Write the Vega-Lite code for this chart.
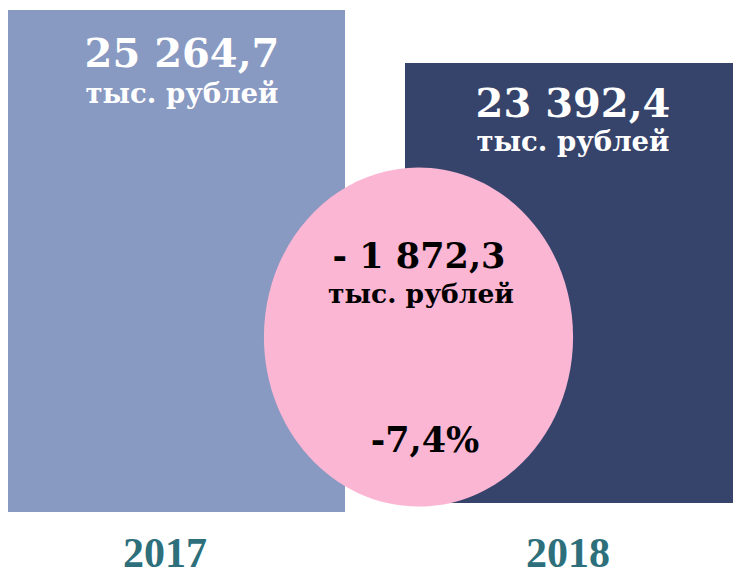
{
  "$schema": "https://vega.github.io/schema/vega-lite/v6.json",
  "width": 733,
  "height": 572,
  "autosize": "none",
  "padding": 0,
  "background": "white",
  "config": {"view": {"stroke": null}},
  "layer": [
    {
      "data": {"values": [
        {"year": "2017", "value": 25264.7, "left": 8, "right": 345, "top": 10, "bottom": 512},
        {"year": "2018", "value": 23392.4, "left": 405, "right": 733, "top": 63, "bottom": 503}
      ]},
      "mark": {"type": "rect"},
      "encoding": {
        "x": {"field": "left", "type": "quantitative", "scale": {"domain": [0, 733], "nice": false, "zero": false}, "axis": null},
        "x2": {"field": "right"},
        "y": {"field": "top", "type": "quantitative", "scale": {"domain": [0, 572], "reverse": true, "nice": false, "zero": false}, "axis": null},
        "y2": {"field": "bottom"},
        "color": {"field": "year", "type": "nominal", "scale": {"domain": ["2017", "2018"], "range": ["#8899c2", "#36446b"]}, "legend": null}
      }
    },
    {
      "data": {"values": [{"change": -1872.3, "cx": 418.5, "cy": 337}]},
      "mark": {"type": "point", "filled": true, "opacity": 1, "color": "#fbb6d4", "size": 114921, "shape": "M-0.912,0 A0.912,1 0 1,1 0.912,0 A0.912,1 0 1,1 -0.912,0 Z"},
      "encoding": {
        "x": {"field": "cx", "type": "quantitative"},
        "y": {"field": "cy", "type": "quantitative"}
      }
    },
    {
      "data": {"values": [
        {"label": "25 264,7", "px": 182, "py": 67},
        {"label": "23 392,4", "px": 573, "py": 117}
      ]},
      "mark": {"type": "text", "align": "center", "baseline": "alphabetic", "font": "DejaVu Serif", "fontWeight": "bold", "fontSize": 40, "color": "white"},
      "encoding": {
        "x": {"field": "px", "type": "quantitative"},
        "y": {"field": "py", "type": "quantitative"},
        "text": {"field": "label"}
      }
    },
    {
      "data": {"values": [
        {"label": "тыс. рублей", "px": 182, "py": 103},
        {"label": "тыс. рублей", "px": 573, "py": 151}
      ]},
      "mark": {"type": "text", "align": "center", "baseline": "alphabetic", "font": "DejaVu Serif", "fontWeight": "bold", "fontSize": 27.5, "color": "white"},
      "encoding": {
        "x": {"field": "px", "type": "quantitative"},
        "y": {"field": "py", "type": "quantitative"},
        "text": {"field": "label"}
      }
    },
    {
      "data": {"values": [
        {"label": "- 1 872,3", "px": 419, "py": 268},
        {"label": "-7,4%", "px": 425, "py": 452}
      ]},
      "mark": {"type": "text", "align": "center", "baseline": "alphabetic", "font": "DejaVu Serif", "fontWeight": "bold", "fontSize": 35, "color": "black"},
      "encoding": {
        "x": {"field": "px", "type": "quantitative"},
        "y": {"field": "py", "type": "quantitative"},
        "text": {"field": "label"}
      }
    },
    {
      "data": {"values": [
        {"label": "тыс. рублей", "px": 421, "py": 303}
      ]},
      "mark": {"type": "text", "align": "center", "baseline": "alphabetic", "font": "DejaVu Serif", "fontWeight": "bold", "fontSize": 26.5, "color": "black"},
      "encoding": {
        "x": {"field": "px", "type": "quantitative"},
        "y": {"field": "py", "type": "quantitative"},
        "text": {"field": "label"}
      }
    },
    {
      "data": {"values": [
        {"label": "2017", "px": 165, "py": 567},
        {"label": "2018", "px": 568, "py": 567}
      ]},
      "mark": {"type": "text", "align": "center", "baseline": "alphabetic", "font": "Liberation Serif", "fontWeight": "bold", "fontSize": 42, "color": "#2d6f7b"},
      "encoding": {
        "x": {"field": "px", "type": "quantitative"},
        "y": {"field": "py", "type": "quantitative"},
        "text": {"field": "label"}
      }
    }
  ]
}
